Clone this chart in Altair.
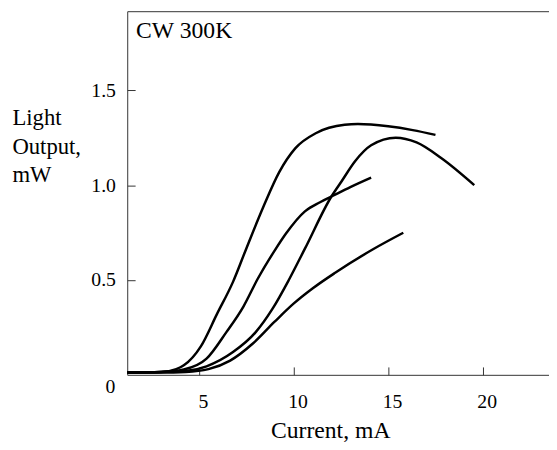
import altair as alt
import pandas as pd

# Curve A (steepest, highest)
a_i = [1.2, 3.0, 3.8, 4.2, 5.1, 5.95, 6.8, 7.5, 8.4, 9.25, 10.1, 11.2, 12.7, 13.4, 15.0, 16.3, 17.5]
a_p = [0.012, 0.015, 0.03, 0.05, 0.15, 0.32, 0.49, 0.665, 0.885, 1.07, 1.195, 1.275, 1.318, 1.322, 1.31, 1.29, 1.265]
# Curve B
b_i = [1.2, 3.0, 4.2, 5.4, 6.45, 7.35, 8.1, 9.0, 9.6, 10.6, 11.4, 12.0, 13.0, 14.1]
b_p = [0.012, 0.015, 0.028, 0.085, 0.225, 0.36, 0.505, 0.655, 0.745, 0.862, 0.91, 0.94, 0.99, 1.04]
# Curve C
c_i = [1.2, 3.0, 4.3, 5.4, 6.8, 8.0, 8.9, 9.75, 10.6, 12.0, 12.55, 13.25, 14.1, 15.4, 16.5, 17.8, 19.55]
c_p = [0.012, 0.015, 0.02, 0.045, 0.12, 0.225, 0.35, 0.5, 0.665, 0.94, 1.022, 1.126, 1.21, 1.25, 1.225, 1.143, 1.0]
# Curve D (lowest)
d_i = [1.2, 3.0, 4.3, 5.5, 6.65, 7.85, 9.0, 10.0, 11.0, 12.2, 14.2, 15.8]
d_p = [0.012, 0.012, 0.015, 0.03, 0.075, 0.165, 0.28, 0.375, 0.455, 0.538, 0.662, 0.749]

x_ticks = [5, 10, 15, 20]
y_ticks = [0.5, 1.0, 1.5]

rows = []
for name, xs, ys in [("A", a_i, a_p), ("B", b_i, b_p), ("C", c_i, c_p), ("D", d_i, d_p)]:
    for x, y in zip(xs, ys):
        rows.append({"curve": name, "current": x, "power": y})
df = pd.DataFrame(rows)

FONT = "Liberation Serif"
xscale = alt.Scale(domain=[1.21, 23.5], nice=False, zero=False)
yscale = alt.Scale(domain=[0, 1.917], nice=False)

lines = alt.Chart(df).mark_line(
    interpolate="monotone", color="black", strokeWidth=2.5, clip=True
).encode(
    x=alt.X("current:Q", scale=xscale, axis=alt.Axis(
        values=x_ticks, format="d", ticks=False, tickSize=0, labelPadding=33,
        labelBaseline="alphabetic", labelFlush=False, labelOffset=4, grid=False,
        title="Current, mA", titleX=206, titleY=64, titleAlign="center", titleBaseline="alphabetic",
        titleFontSize=24,
    )),
    y=alt.Y("power:Q", scale=yscale, axis=alt.Axis(
        values=y_ticks, format=".1f", ticks=False, tickSize=0, labelPadding=12,
        grid=True, gridDash=[8, 1000], gridColor="#333", gridWidth=1, gridOpacity=1,
        title=["Light", "Output,", "mW"], titleAngle=0, titleAlign="left", titleBaseline="alphabetic",
        titleX=-117, titleY=115, titleLineHeight=29,
    )),
    detail="curve:N",
)

# inward x ticks: an extra bottom axis moved 8px into the plot
xticks = alt.Chart(df).mark_line(strokeOpacity=0).encode(
    x=alt.X("current:Q", scale=xscale, axis=alt.Axis(
        orient="bottom", offset=-8, values=x_ticks, domain=False, labels=False,
        ticks=True, tickSize=8, tickColor="#333", tickWidth=1, grid=False, title=None)),
    y=alt.Y("power:Q", scale=yscale, axis=None),
    detail="curve:N",
)

top = alt.Chart(df).mark_line(strokeOpacity=0).encode(
    x=alt.X("current:Q", scale=xscale, axis=alt.Axis(
        orient="top", labels=False, ticks=False, grid=False, title=None, domain=True)),
    y=alt.Y("power:Q", scale=yscale, axis=None),
    detail="curve:N",
)

cw = alt.Chart(pd.DataFrame({"t": ["CW 300K"]})).mark_text(
    align="left", baseline="alphabetic", fontSize=24, font=FONT, color="black"
).encode(x=alt.value(9), y=alt.value(27), text="t:N")

zero = alt.Chart(pd.DataFrame({"t": ["0"]})).mark_text(
    align="right", baseline="alphabetic", fontSize=20, font=FONT, color="black", dy=18
).encode(x=alt.value(-12), y=alt.Y(datum=0, scale=yscale, axis=None), text="t:N")

chart = alt.layer(lines, xticks, top, cw, zero).resolve_axis(x="independent", y="independent").properties(
    width=428, height=369,
    autosize=alt.AutoSizeParams(type="none"),
    padding={"left": 121, "top": 0, "right": 0, "bottom": 70},
).configure_view(stroke=None).configure_axis(
    labelFont=FONT, labelFontSize=20, labelColor="black",
    titleFont=FONT, titleFontSize=23, titleFontWeight="normal", titleColor="black",
    domainColor="#333", domainWidth=1,
)

chart.save("out.html", embed_options={"renderer": "svg", "actions": False})
